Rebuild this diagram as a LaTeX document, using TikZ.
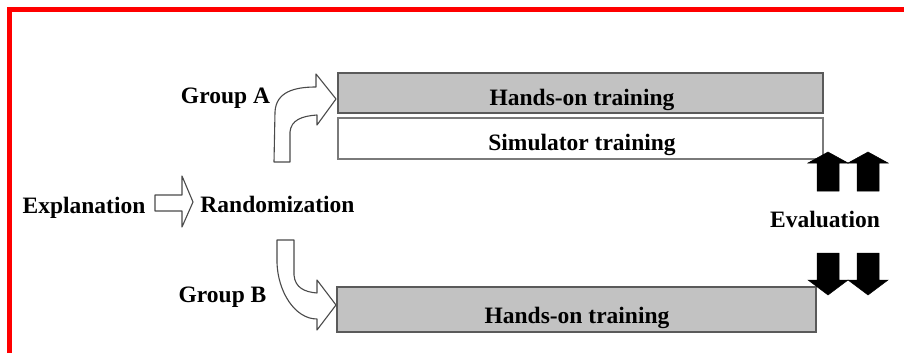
\documentclass[tikz,border=0pt]{standalone}
\usepackage{fontspec}
\setmainfont{Liberation Serif}
\begin{document}
\begin{tikzpicture}[x=1pt,y=-1pt,
  lbl/.style={font=\fontsize{23.5}{27}\selectfont\bfseries, inner sep=0pt, anchor=base},
  trainbox/.style={draw=boxedge, line width=1.8pt, inner sep=0pt},
  hollow/.style={draw=arrowedge, fill=white, line width=1.1pt, line join=round},
  solidarrow/.style={fill=black, draw=black, line width=0.5pt, line join=miter}]
\definecolor{boxgray}{HTML}{C2C2C2}
\definecolor{boxedge}{HTML}{5A5A5A}
\definecolor{simedge}{HTML}{7A7A7A}
\definecolor{arrowedge}{HTML}{4A4A4A}
\definecolor{frame}{HTML}{FF0000}
\useasboundingbox (0,0) rectangle (904,353);
\fill[white] (0,0) rectangle (904,353);
\begin{scope}
\clip (0,0) rectangle (904,353);
\draw[frame, line width=4.5pt] (9.5,400) -- (9.5,9.5) -- (950,9.5);
\end{scope}

% boxes
\node[trainbox, fill=boxgray, minimum width=485pt, minimum height=40pt] (ha) at (580.5,93) {};
\node[trainbox, draw=simedge, fill=white, minimum width=485pt, minimum height=41pt] (sim) at (580.5,138.5) {};
\node[trainbox, fill=boxgray, minimum width=479pt, minimum height=45pt] (hb) at (576.5,309.5) {};

\node[lbl] (hat) at (582,105) {Hands-on training};
\node[lbl] (simt) at (582,150) {Simulator training};
\node[lbl] (hbt) at (577,323) {Hands-on training};

% labels
\node[lbl] (expl) at (84,213) {Explanation};
\node[lbl] (rand) at (277.5,212) {Randomization};
\node[lbl] (ga) at (225.5,103) {Group A};
\node[lbl] (gb) at (222.5,302) {Group B};
\node[lbl] (eval) at (825,227) {Evaluation};

% hollow arrows
\draw[hollow] (155,195) -- (182,195) -- (182,176) -- (193,202) -- (182,227) -- (182,211) -- (155,211) -- cycle;
\draw[hollow] (274,162) -- (275,112) .. controls (276,92) and (294,87) .. (316,87) -- (316,74) -- (336,99) -- (317,125) -- (317,115) .. controls (302,116) and (291,120) .. (290,132) -- (290,162) -- cycle;
\draw[hollow] (277,240) -- (277,263) .. controls (278,292) and (295,319) .. (317,319) -- (317,330) -- (336,305) -- (317,280) -- (317,293) .. controls (305,292) and (295,288) .. (294,275) -- (294,240) -- cycle;

% evaluation arrows
\foreach \c in {828,868}{
  \draw[solidarrow] (\c-11,191) -- (\c-11,163) -- (\c-20,163) -- (\c,152) -- (\c+20,163) -- (\c+11,163) -- (\c+11,191) -- cycle;
  \draw[solidarrow] (\c-11,253) -- (\c-11,280) -- (\c-20,280) -- (\c,295) -- (\c+20,280) -- (\c+11,280) -- (\c+11,253) -- cycle;
}
\end{tikzpicture}
\end{document}
